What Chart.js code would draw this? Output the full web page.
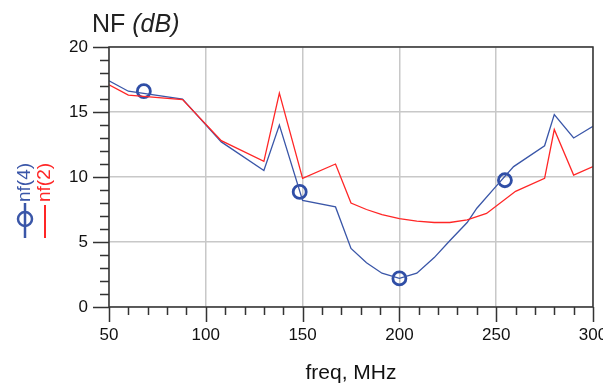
<!DOCTYPE html>
<html>
<head>
<meta charset="utf-8">
<script src="https://cdn.jsdelivr.net/npm/chart.js@4"></script>
<style>
  body { margin: 0; background: #fff; }
  #wrap { width: 603px; height: 386px; }
</style>
</head>
<body>
<div id="wrap"><canvas id="nfChart" width="603" height="386"></canvas></div>
<script>
// nf(4) trace (blue), nf(2) trace (red), and the nf(4) marker circles
const blueFreq = [50, 60, 88, 108, 130, 138, 150, 167, 175, 183, 191, 200, 209, 218, 226, 235, 240, 250, 259, 275, 280, 290, 300];
const blueNF = [17.4, 16.6, 16.0, 12.7, 10.5, 14.0, 8.2, 7.7, 4.5, 3.4, 2.6, 2.2, 2.6, 3.8, 5.1, 6.5, 7.6, 9.3, 10.8, 12.4, 14.8, 13.0, 13.9];
const redFreq = [50, 60, 88, 108, 130, 138, 150, 167, 175, 183, 191, 200, 209, 218, 226, 235, 245, 260, 275, 280, 290, 300];
const redNF = [17.1, 16.3, 15.95, 12.8, 11.2, 16.45, 9.9, 11.0, 8.0, 7.5, 7.1, 6.8, 6.6, 6.5, 6.5, 6.7, 7.2, 8.9, 9.9, 13.65, 10.15, 10.8];
const markerFreq = [68, 148.5, 200, 254.5];
const markerNF = [16.6, 8.85, 2.2, 9.75];
const xTicks = [50, 100, 150, 200, 250, 300];
const yTicks = [0, 5, 10, 15, 20];

const FONT = '"Liberation Sans", Arial, sans-serif';
const BLUE = '#3a56a8';
const RED = '#ff2626';
const DARK = '#333333';

const pts = (xs, ys) => xs.map((x, i) => ({ x: x, y: ys[i] }));

const decor = {
    id: 'decor',
    afterDraw(chart) {
        const ctx = chart.ctx;
        const a = chart.chartArea;
        const xs = chart.scales.x, ys = chart.scales.y;
        ctx.save();
        ctx.strokeStyle = DARK;
        ctx.lineWidth = 1.5;
        // frame
        ctx.strokeRect(a.left, a.top, a.right - a.left, a.bottom - a.top);
        // x ticks, minor every 10
        ctx.beginPath();
        for (let v = xTicks[0]; v <= xTicks[xTicks.length - 1]; v += 10) {
            const px = Math.round(xs.getPixelForValue(v)) + 0.5;
            const len = v % 50 === 0 ? 15 : 8;
            ctx.moveTo(px, a.bottom);
            ctx.lineTo(px, a.bottom + len);
        }
        // y ticks, minor every 1
        for (let v = yTicks[0]; v <= yTicks[yTicks.length - 1]; v += 1) {
            const py = Math.round(ys.getPixelForValue(v)) + 0.5;
            const len = v % 5 === 0 ? 16 : 9;
            ctx.moveTo(a.left, py);
            ctx.lineTo(a.left - len, py);
        }
        ctx.stroke();

        // title
        ctx.fillStyle = '#222';
        ctx.textBaseline = 'alphabetic';
        ctx.font = '25px ' + FONT;
        ctx.fillText('NF', 92, 32);
        const w = ctx.measureText('NF ').width;
        ctx.font = 'italic 25px ' + FONT;
        ctx.fillText('(dB)', 92 + w, 32);

        // rotated legend
        ctx.font = '19px ' + FONT;
        ctx.textBaseline = 'middle';
        ctx.translate(25, 238);
        ctx.rotate(-Math.PI / 2);
        ctx.strokeStyle = BLUE;
        ctx.lineWidth = 2.5;
        ctx.beginPath();
        ctx.moveTo(0, 0); ctx.lineTo(35, 0);
        ctx.stroke();
        ctx.beginPath();
        ctx.arc(19, 0, 7, 0, Math.PI * 2);
        ctx.stroke();
        ctx.fillStyle = BLUE;
        ctx.fillText('nf(4)', 36, 0);
        ctx.translate(0, 20);
        ctx.strokeStyle = RED;
        ctx.lineWidth = 2;
        ctx.beginPath();
        ctx.moveTo(0, 0); ctx.lineTo(33, 0);
        ctx.stroke();
        ctx.fillStyle = RED;
        ctx.fillText('nf(2)', 36, 0);
        ctx.restore();
    }
};

new Chart(document.getElementById('nfChart'), {
    type: 'line',
    data: {
        datasets: [
            { label: 'nf(2)', data: pts(redFreq, redNF), borderColor: RED, borderWidth: 1.3, pointRadius: 0, tension: 0, fill: false },
            { label: 'nf(4)', data: pts(blueFreq, blueNF), borderColor: BLUE, borderWidth: 1.3, pointRadius: 0, tension: 0, fill: false },
            { label: 'markers', data: pts(markerFreq, markerNF), showLine: false, pointRadius: 6.5, pointBorderWidth: 2.8,
              pointBorderColor: '#2f4ea6', pointBackgroundColor: 'rgba(0,0,0,0)', pointStyle: 'circle' }
        ]
    },
    options: {
        responsive: false,
        animation: false,
        layout: { padding: { top: 47, right: 10, left: 0, bottom: 0 } },
        plugins: { legend: { display: false }, tooltip: { enabled: false } },
        scales: {
            x: {
                type: 'linear', min: 50, max: 300,
                afterFit: (s) => { s.height = 79; s.paddingLeft = 0; s.paddingRight = 0; },
                afterBuildTicks: (s) => { s.ticks = xTicks.map(v => ({ value: v })); },
                ticks: { color: '#111', font: { family: FONT, size: 17 }, padding: 18, maxRotation: 0 },
                grid: { color: '#c8c8c8', lineWidth: 1.5, drawTicks: false },
                border: { display: false },
                title: { display: true, text: 'freq, MHz', color: '#111', font: { family: FONT, size: 21 }, padding: { top: 10, bottom: 0 } }
            },
            y: {
                min: 0, max: 20,
                afterFit: (s) => { s.width = 109; s.paddingTop = 0; s.paddingBottom = 0; },
                afterBuildTicks: (s) => { s.ticks = yTicks.map(v => ({ value: v })); },
                ticks: { color: '#111', font: { family: FONT, size: 17 }, padding: 21 },
                grid: { color: '#c8c8c8', lineWidth: 1.5, drawTicks: false },
                border: { display: false }
            }
        }
    },
    plugins: [decor]
});
</script>
</body>
</html>
